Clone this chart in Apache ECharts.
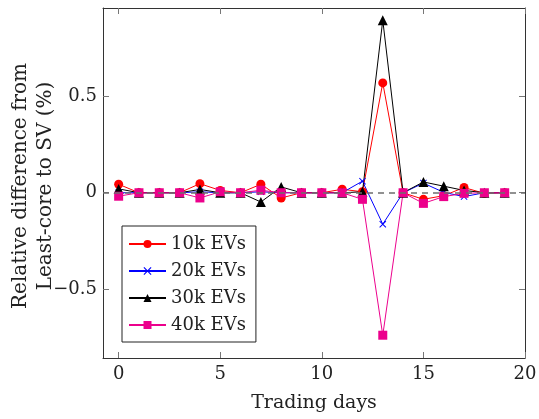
<!DOCTYPE html>
<html>
<head>
<meta charset="utf-8">
<script src="https://cdn.jsdelivr.net/npm/echarts@6/dist/echarts.min.js"></script>
<style>
  html, body { margin: 0; padding: 0; background: #fff; }
  #chart { width: 539px; height: 419px; }
</style>
</head>
<body>
<div id="chart"></div>
<script>
// data
const days = [0,1,2,3,4,5,6,7,8,9,10,11,12,13,14,15,16,17,18,19];
const ev10 = [0.044,0,0,0,0.047,0.012,0,0.044,-0.027,0,0,0.018,0.005,0.569,0,-0.034,-0.015,0.027,-0.003,0];
const ev20 = [0,0,0,0,0.005,0,0,0.005,0,0,0,0,0.06,-0.163,0,0.05,0.002,-0.02,0,0];
const ev30 = [0.02,0,0,0,0.017,0,0,-0.048,0.03,0,0,0,0.005,0.894,0,0.056,0.034,0.012,0,0];
const ev40 = [-0.018,0,0,0,-0.027,0.005,0,0.013,0,0,0,0,-0.034,-0.738,0,-0.055,-0.02,-0.003,0,0];
const xTicks = [0,5,10,15,20];
const yTicks = [-0.5,0,0.5];

const font = 'DejaVu Serif';
const crossPath = 'path://M0,1L1,0L5,4L9,0L10,1L6,5L10,9L9,10L5,6L1,10L0,9L4,5Z';

function pairs(ys){ return days.map((d,i)=>[d,ys[i]]) }
function fmt(v){ return String(v).replace('-', '\u2212') }

const myChart = echarts.init(document.getElementById('chart'));

const axisCommon = {
  axisLine: { show: true, onZero: false, lineStyle: { color: '#333', width: 1 } },
  splitLine: { show: false }
};

function mkSeries(name, ys, color, symbol, size){
  return {
    name: name, type: 'line', data: pairs(ys),
    symbol: symbol, symbolSize: size, showSymbol: true,
    lineStyle: { color: color, width: 1 },
    itemStyle: { color: color },
    animation: false
  };
}

const s10 = mkSeries('10k EVs', ev10, '#ff0000', 'circle', 9);
s10.markLine = {
  silent: true, symbol: 'none', label: { show: false },
  lineStyle: { color: '#6e6e6e', type: [6,5], width: 1.5 },
  data: [{ yAxis: 0 }]
};

myChart.setOption({
  animation: false,
  grid: { left: 103, right: 14, top: 8, bottom: 61, outerBoundsMode: 'none', containLabel: false },
  // y axis title, two lines, rotated
  graphic: [{
    type: 'text', x: 33, y: 186, rotation: Math.PI / 2,
    style: {
      text: 'Relative difference from\nLeast-core to SV (%)',
      font: '20px "DejaVu Serif"', fill: '#222', lineHeight: 25,
      align: 'center', verticalAlign: 'middle'
    }
  }],
  legend: {
    orient: 'vertical', left: 122, top: 226,
    backgroundColor: '#fff', borderColor: '#222', borderWidth: 1,
    padding: [8, 10, 7, 6], itemGap: 7, itemWidth: 37, itemHeight: 10,
    textStyle: { fontFamily: font, fontSize: 18, color: '#222', lineHeight: 20 },
    data: ['10k EVs','20k EVs','30k EVs','40k EVs']
  },
  xAxis: [
    Object.assign({
      type: 'value', min: -0.77, max: 20,
      name: 'Trading days', nameLocation: 'middle', nameGap: 36,
      nameTextStyle: { fontFamily: font, fontSize: 19, color: '#222' },
      axisTick: { show: true, inside: true, length: 6, customValues: xTicks, lineStyle: { color: '#777' } },
      axisLabel: { customValues: xTicks, margin: 7, fontFamily: font, fontSize: 18, color: '#222', formatter: fmt }
    }, axisCommon),
    Object.assign({
      type: 'value', min: -0.77, max: 20, position: 'top',
      axisTick: { show: true, inside: true, length: 6, customValues: xTicks, lineStyle: { color: '#777' } },
      axisLabel: { show: false }
    }, axisCommon)
  ],
  yAxis: [
    Object.assign({
      type: 'value', min: -0.856, max: 0.957,
      axisTick: { show: true, inside: true, length: 6, customValues: yTicks, lineStyle: { color: '#777' } },
      axisLabel: { customValues: yTicks, margin: 6, fontFamily: font, fontSize: 18, color: '#222', formatter: fmt }
    }, axisCommon),
    Object.assign({
      type: 'value', min: -0.856, max: 0.957, position: 'right',
      axisTick: { show: true, inside: true, length: 6, customValues: yTicks, lineStyle: { color: '#777' } },
      axisLabel: { show: false }
    }, axisCommon)
  ],
  series: [
    s10,
    mkSeries('20k EVs', ev20, '#0000ff', crossPath, 7),
    mkSeries('30k EVs', ev30, '#000000', 'triangle', 10),
    mkSeries('40k EVs', ev40, '#ec008c', 'rect', 9)
  ]
});
</script>
</body>
</html>
